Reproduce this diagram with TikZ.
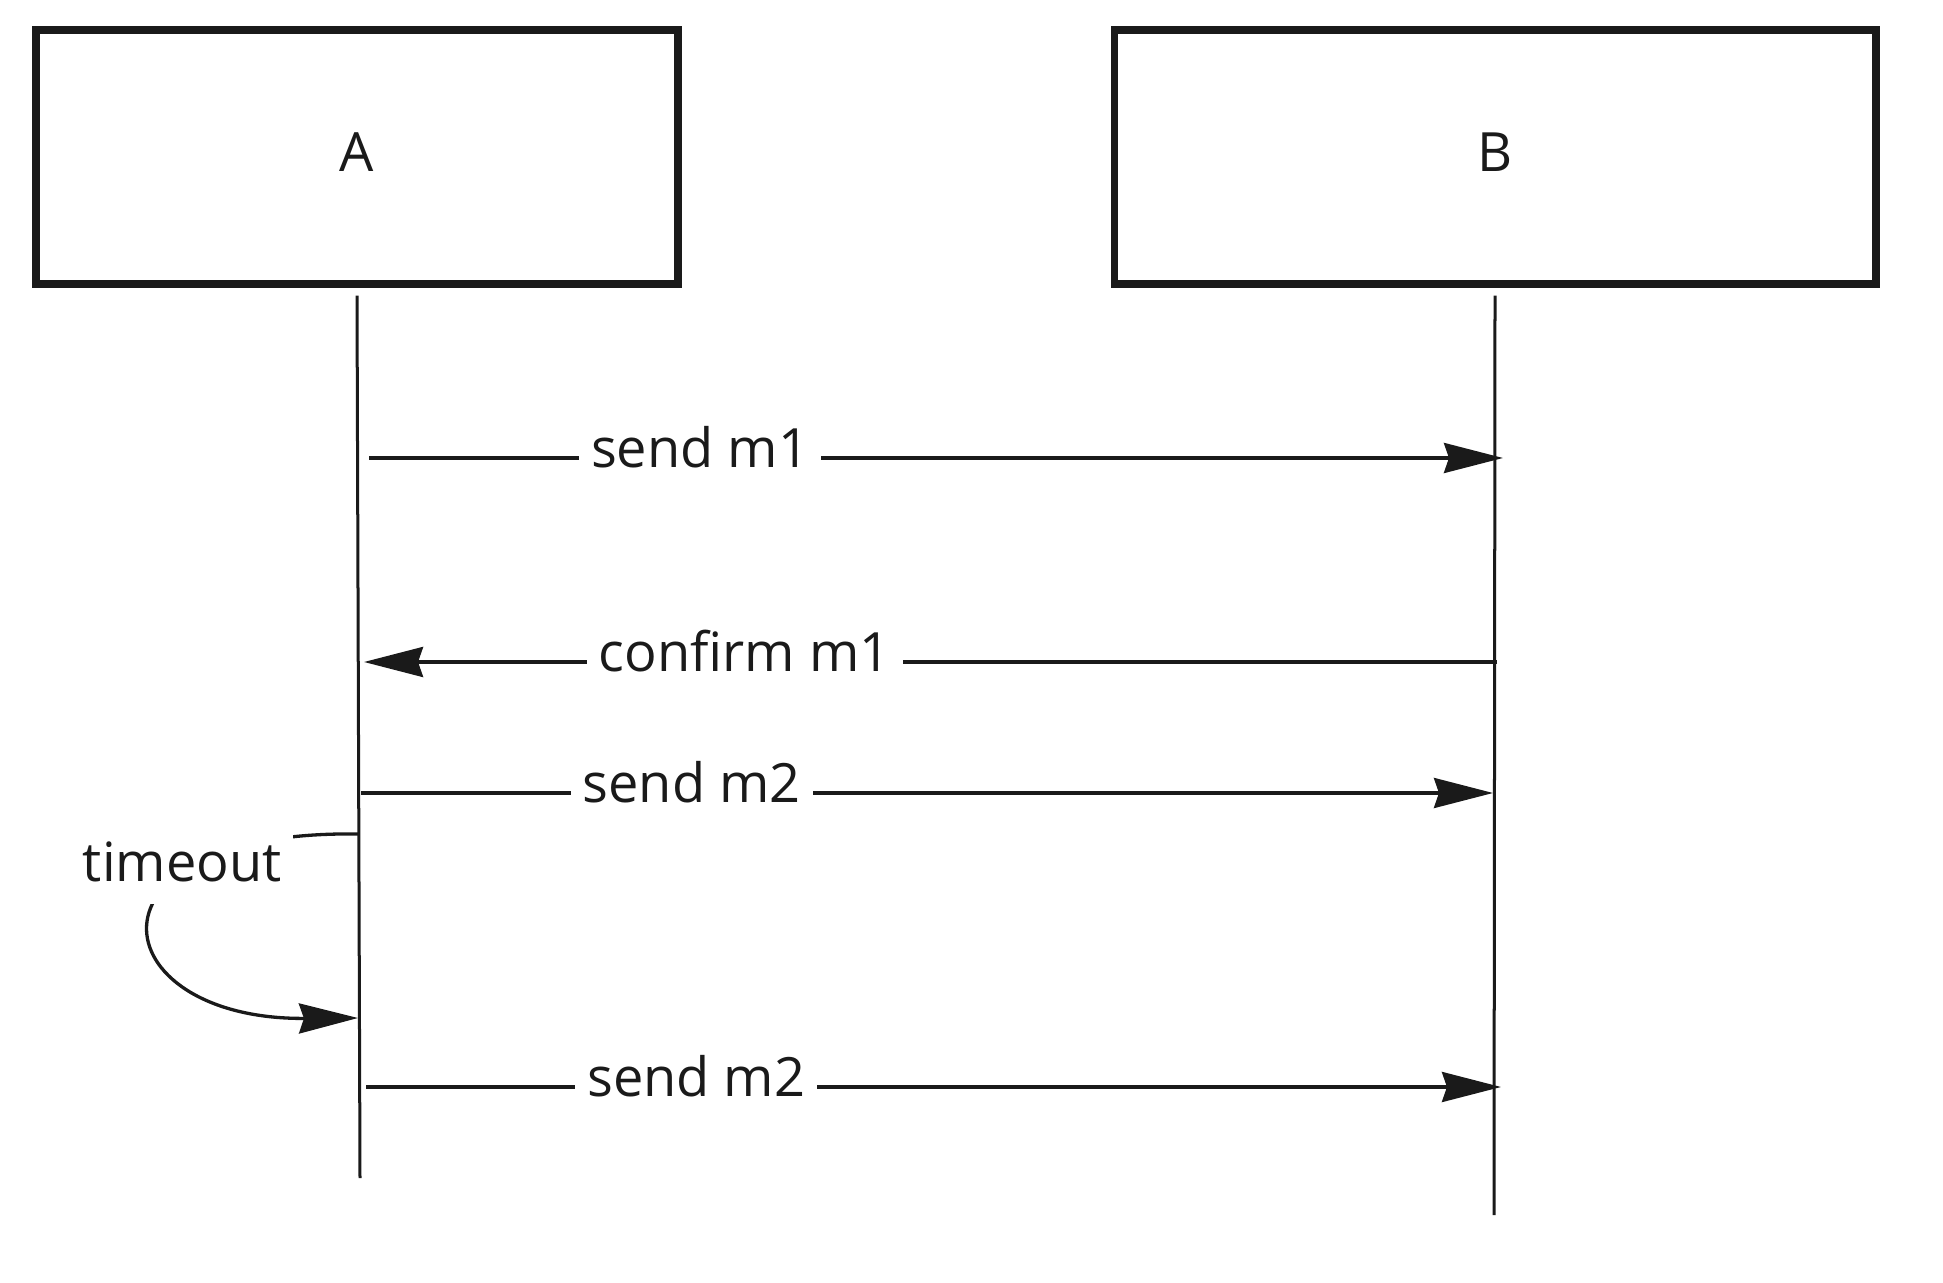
\documentclass[tikz,border=0pt]{standalone}
\usepackage{fontspec}
\setmainfont{Open Sans}
\usetikzlibrary{arrows.meta}
\definecolor{ink}{HTML}{1A1A1A}

\begin{document}
\begin{tikzpicture}[x=.01cm,y=-.01cm,font=\fontsize{15.4}{18}\selectfont,
  actor/.style={draw=ink,line width=.075cm,minimum width=6.42cm,minimum height=2.535cm,text depth=.1cm,text=ink},
  life/.style={draw=ink,line width=.03cm},
  msg/.style={draw=ink,line width=.033cm,-{Stealth[length=.59cm,width=.3cm,inset=.05cm]}},
  lbl/.style={fill=white,text=ink,inner xsep=.12cm,anchor=mid}]
\useasboundingbox (0,0) rectangle (1943,1283);
\node[actor] (A) at (357,157) {A};
\node[actor,minimum width=7.61cm] (B) at (1495,157) {B};
\coordinate (Aend) at (360,1178);
\coordinate (Bend) at (1494,1215);
\draw[life] ([yshift=-.08cm]A.south) -- (Aend);
\draw[life] ([yshift=-.08cm]B.south) -- (Bend);

\coordinate (sendA) at (369,458);
\coordinate (sendB) at (1503,458);
\draw[msg] (sendA) -- node[lbl,pos=.292] {send m1} (sendB);
\coordinate (confB) at (1497,662);
\coordinate (confA) at (364,662);
\draw[msg] (confB) -- node[lbl,pos=.664] {confirm m1} (confA);
\coordinate (sendtwoA) at (361,793);
\coordinate (sendtwoB) at (1493,793);
\draw[msg] (sendtwoA) -- node[lbl,pos=.292] {send m2} (sendtwoB);
\coordinate (timeA) at (358,834);
\coordinate (timeB) at (358,1018);
\draw[msg] (timeA) .. controls (70,830) and (100,1020) .. node[lbl,pos=.3,inner xsep=.11cm,inner ysep=.22cm] {timeout} (timeB);
\coordinate (resendA) at (366,1087);
\coordinate (resendB) at (1501,1087);
\draw[msg] (resendA) -- node[lbl,pos=.291] {send m2} (resendB);
\end{tikzpicture}
\end{document}
